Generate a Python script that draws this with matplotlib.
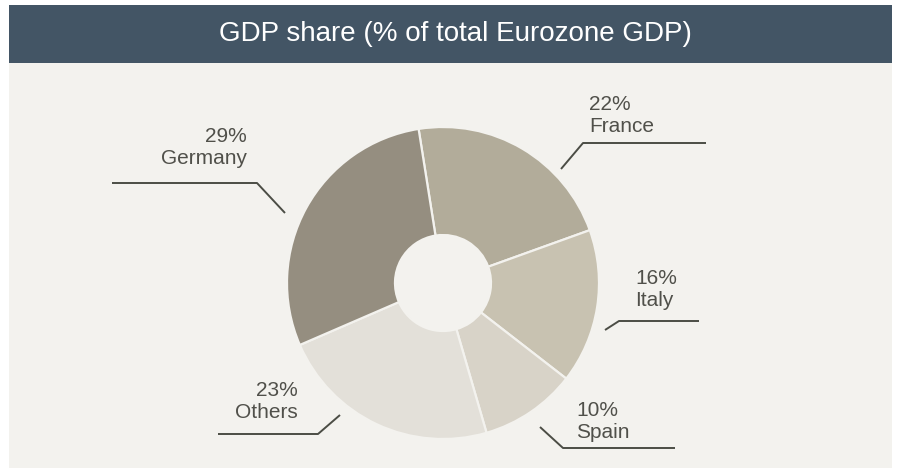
import matplotlib
matplotlib.use('Agg')
import matplotlib.pyplot as plt
from matplotlib.patches import Rectangle

plt.rcParams['font.family'] = ['Liberation Sans', 'DejaVu Sans']

# data
countries = ['France', 'Italy', 'Spain', 'Others', 'Germany']
shares = [22, 16, 10, 23, 29]
colors = ['#b2ac9a', '#c8c2b1', '#d8d3c8', '#e3e0d9', '#958e80']
title = 'GDP share (% of total Eurozone GDP)'

W, H = 897, 469
CX, CY, R = 443, 283, 156   # pie centre / radius in pixels


def px(x, y):
    # pixel (from top-left) -> axes data units (pie radius = 1)
    return (x - CX) / R, (CY - y) / R


fig = plt.figure(figsize=(W / 100, H / 100), dpi=100)
fig.patch.set_facecolor('white')
bg = '#f3f2ee'
fig.add_artist(Rectangle((9 / W, 1 - 468 / H), 883 / W, 463 / H, zorder=-10,
                         transform=fig.transFigure, facecolor=bg, edgecolor='none'))
fig.add_artist(Rectangle((9 / W, 1 - 63 / H), 883 / W, 58 / H, zorder=-9,
                         transform=fig.transFigure, facecolor='#435565', edgecolor='none'))
fig.text(455 / W, 1 - 34 / H, title, color='white', fontsize=20,
         ha='center', va='center')

ax = fig.add_axes([0, 0, 1, 1])
ax.set_xlim(-CX / R, (W - CX) / R)
ax.set_ylim(-(H - CY) / R, CY / R)
ax.axis('off')

ax.pie(shares, colors=colors, startangle=99, counterclock=False, radius=1,
       wedgeprops=dict(width=1 - 48 / R, edgecolor=bg, linewidth=1.6))
ax.set_xlim(-CX / R, (W - CX) / R)
ax.set_ylim(-(H - CY) / R, CY / R)

# labels (position, alignment) and leader lines
label_pos = {
    'France': (589, 115, 'left'),
    'Italy': (635, 289, 'left'),
    'Spain': (576, 421, 'left'),
    'Others': (298, 401, 'right'),
    'Germany': (247, 147, 'right'),
}
leaders = {
    'France': [(561, 169), (583, 143), (706, 143)],
    'Italy': [(605, 330), (619, 321), (699, 321)],
    'Spain': [(540, 427), (563, 448), (675, 448)],
    'Others': [(218, 434), (318, 434), (340, 415)],
    'Germany': [(112, 183), (257, 183), (285, 213)],
}
txt_col = '#50504a'
for name, val in zip(countries, shares):
    x, y, ha = label_pos[name]
    tx, ty = px(x, y)
    ax.text(tx, ty, f'{val}%\n{name}', ha=ha, va='center', multialignment=ha,
            fontsize=15, color=txt_col, linespacing=1.2)
    pts = [px(a, b) for a, b in leaders[name]]
    ax.plot([p[0] for p in pts], [p[1] for p in pts], color='#4b4d45', lw=1.4,
            solid_capstyle='butt')

fig.savefig('out.png', dpi=100, facecolor=fig.get_facecolor())
